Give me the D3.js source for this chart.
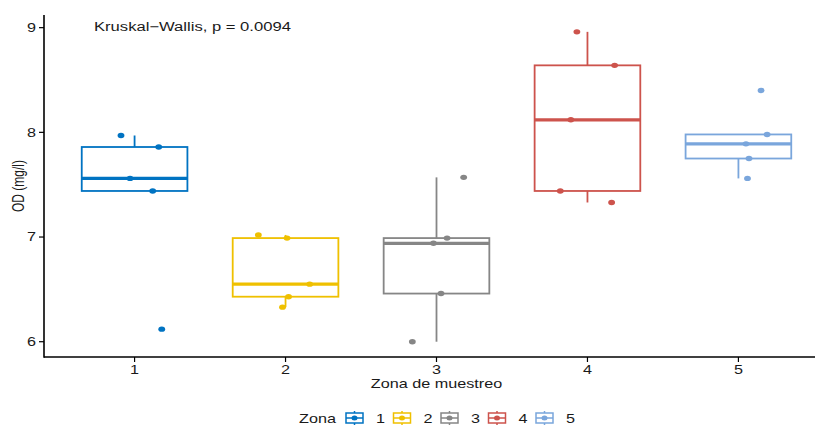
<!DOCTYPE html>
<html>
<head>
<meta charset="utf-8">
<script src="https://cdn.jsdelivr.net/npm/d3@7"></script>
<style>
  body { margin: 0; background: #fff; }
  text { font-family: "Liberation Sans", Arial, sans-serif; fill: #1a1a1a; }
</style>
</head>
<body>
<div class="chart"></div>
<script>
// values
const zones = ["1", "2", "3", "4", "5"];
const zoneColors = ["#0073C2", "#EFC000", "#868686", "#CD534C", "#7AA6DC"];
const od1 = [7.97, 7.86, 7.56, 7.44, 6.12];
const od2 = [7.02, 6.99, 6.43, 6.33, 6.55];
const od3 = [7.57, 6.99, 6.94, 6.46, 6.00];
const od4 = [8.96, 8.64, 8.12, 7.44, 7.33];
const od5 = [8.40, 7.98, 7.89, 7.75, 7.56];
// horizontal jitter of each point (in zone units), as placed in the picture
const jit1 = [-0.09, 0.16, -0.03, 0.12, 0.18];
const jit2 = [-0.18, 0.01, 0.02, -0.02, 0.16];
const jit3 = [0.18, 0.07, -0.02, 0.03, -0.16];
const jit4 = [-0.07, 0.18, -0.11, -0.18, 0.16];
const jit5 = [0.15, 0.19, 0.05, 0.07, 0.06];
const yTicks = [6, 7, 8, 9];
const testLabel = "Kruskal\u2212Wallis, p = 0.0094";

const odValues = [od1, od2, od3, od4, od5];
const jitters = [jit1, jit2, jit3, jit4, jit5];

const W = 815, H = 427;
const stretch = 1.35;   // the reference text is stretched sideways

const svg = d3.select(".chart").append("svg")
    .attr("width", W)
    .attr("height", H);

const xScale = d3.scaleLinear().domain([0.4, 5.6]).range([44, 829]);
const yScale = d3.scaleLinear().domain([5.854, 9.121]).range([357, 15]);
const boxW = 0.7;

// text helper, wide glyphs like the picture
function label(g, x, y, str, anchor, rot, size) {
    return g.append("text")
        .attr("transform", `translate(${x},${y}) scale(${stretch},1)` + (rot ? ` rotate(${rot})` : ""))
        .attr("text-anchor", anchor || "middle")
        .attr("dy", "0.35em")
        .style("font-size", (size || 12) + "px")
        .text(str);
}

// box stats, same quantiles as R default
const stats = odValues.map((vals, i) => {
    const s = vals.slice().sort(d3.ascending);
    const q1 = d3.quantile(s, 0.25), med = d3.quantile(s, 0.5), q3 = d3.quantile(s, 0.75);
    const iqr = q3 - q1;
    const inside = s.filter(v => v >= q1 - 1.5 * iqr && v <= q3 + 1.5 * iqr);
    return {zone: i + 1, q1, med, q3, lo: d3.min(inside), hi: d3.max(inside), color: zoneColors[i]};
});

const boxes = svg.append("g").selectAll("g").data(stats).enter().append("g");

boxes.append("line")
    .attr("x1", d => xScale(d.zone)).attr("x2", d => xScale(d.zone))
    .attr("y1", d => yScale(d.hi)).attr("y2", d => yScale(d.q3))
    .attr("stroke", d => d.color).attr("stroke-width", 1.8);
boxes.append("line")
    .attr("x1", d => xScale(d.zone)).attr("x2", d => xScale(d.zone))
    .attr("y1", d => yScale(d.q1)).attr("y2", d => yScale(d.lo))
    .attr("stroke", d => d.color).attr("stroke-width", 1.8);
boxes.append("rect")
    .attr("x", d => xScale(d.zone - boxW / 2))
    .attr("width", d => xScale(d.zone + boxW / 2) - xScale(d.zone - boxW / 2))
    .attr("y", d => yScale(d.q3))
    .attr("height", d => yScale(d.q1) - yScale(d.q3))
    .attr("fill", "#fff")
    .attr("stroke", d => d.color).attr("stroke-width", 1.8);
boxes.append("line")
    .attr("x1", d => xScale(d.zone - boxW / 2)).attr("x2", d => xScale(d.zone + boxW / 2))
    .attr("y1", d => yScale(d.med)).attr("y2", d => yScale(d.med))
    .attr("stroke", d => d.color).attr("stroke-width", 3.2);

// jittered points
const pts = [];
odValues.forEach((vals, i) => vals.forEach((v, j) => pts.push({zone: i + 1, v, dx: jitters[i][j], color: zoneColors[i]})));

svg.append("g").selectAll("ellipse").data(pts).enter().append("ellipse")
    .attr("cx", d => xScale(d.zone + d.dx))
    .attr("cy", d => yScale(d.v))
    .attr("rx", 3.4).attr("ry", 2.7)
    .attr("fill", d => d.color);

// axes
const axisG = svg.append("g");
axisG.append("line").attr("x1", 44).attr("x2", W).attr("y1", 357).attr("y2", 357)
    .attr("stroke", "#000").attr("stroke-width", 1.6);
axisG.append("line").attr("x1", 44).attr("x2", 44).attr("y1", 15).attr("y2", 357.8)
    .attr("stroke", "#000").attr("stroke-width", 1.6);

yTicks.forEach(t => {
    axisG.append("line").attr("x1", 39).attr("x2", 44).attr("y1", yScale(t)).attr("y2", yScale(t))
        .attr("stroke", "#000").attr("stroke-width", 1.2);
    label(axisG, 36, yScale(t), String(t), "end");
});
zones.forEach((z, i) => {
    axisG.append("line").attr("x1", xScale(i + 1)).attr("x2", xScale(i + 1)).attr("y1", 357).attr("y2", 362)
        .attr("stroke", "#000").attr("stroke-width", 1.2);
    label(axisG, xScale(i + 1), 370, z);
});

label(svg, xScale(3), 384, "Zona de muestreo");
label(svg, 18, 186, "OD (mg/l)", "middle", -90);
label(svg, 94, 27, testLabel, "start", null, 12.3);

// legend
const leg = svg.append("g");
label(leg, 299, 419, "Zona", "start");
zones.forEach((z, i) => {
    const kx = 346 + i * 47.5, ky = 418, c = zoneColors[i];
    leg.append("line").attr("x1", kx + 8.5).attr("x2", kx + 8.5).attr("y1", ky - 7).attr("y2", ky + 7)
        .attr("stroke", c).attr("stroke-width", 1.5);
    leg.append("rect").attr("x", kx).attr("y", ky - 5).attr("width", 17).attr("height", 10)
        .attr("fill", "#fff").attr("stroke", c).attr("stroke-width", 1.5);
    leg.append("line").attr("x1", kx).attr("x2", kx + 17).attr("y1", ky).attr("y2", ky)
        .attr("stroke", c).attr("stroke-width", 1.5);
    leg.append("ellipse").attr("cx", kx + 8.5).attr("cy", ky).attr("rx", 3).attr("ry", 2.5).attr("fill", c);
    label(leg, kx + 30, ky + 1, z, "start");
});
</script>
</body>
</html>
